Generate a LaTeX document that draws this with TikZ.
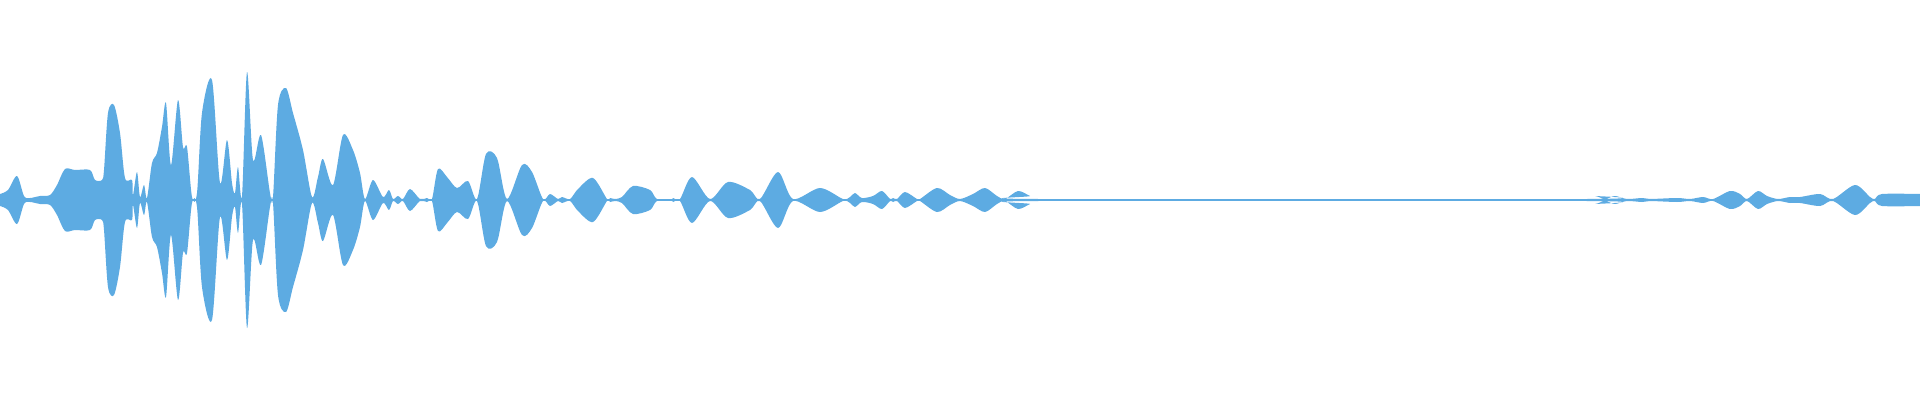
\documentclass[tikz,border=0pt]{standalone}
\definecolor{wave}{RGB}{93,171,226}
\begin{document}
\begin{tikzpicture}[x=1pt,y=1pt]
\useasboundingbox (0,0) rectangle (1920,400);
\def\env{(0,6) (8,10) (17,24) (24,4) (30,2) (40,4) (50,5) (57,15) (65,31) (75,30) (90,30) (95,20) (102,20) (104,30) (108,87) (114,95) (120,67) (125,22) (132,20) (133,5) (137,28) (140,3) (144,15) (147,2) (152,37) (157,47) (162,73) (166,97) (171,35) (178,100) (183,53) (187,53) (192,3) (197,7) (202,87) (212,120) (220,17) (227,60) (232,17) (235,7) (238,33) (242,4) (247,128) (253,40) (261,65) (270,7) (273,3) (278,95) (286,112) (293,87) (303,50) (312,3) (318,23) (323,41) (333,15) (343,65) (353,50) (360,27) (365,1) (373,20) (383,3) (389,10) (393,1) (398,4) (403,1) (410,11) (420,1) (427,2) (432,1) (438,31) (447,23) (457,12) (468,19) (477,1) (486,46) (497,42) (507,1) (522,35) (532,28) (543,1) (550,6) (558,1) (562,3) (570,1) (578,11) (593,22) (607,1) (610,2) (615,1) (622,3) (633,14) (650,10) (657,1) (672,1) (673,2) (680,1) (692,23) (710,1) (728,18) (750,10) (760,1) (778,28) (793,1) (820,12) (843,1) (850,3) (855,7) (862,2) (873,4) (882,9) (890,1) (893,2) (897,1) (905,8) (917,1) (920,1) (937,12) (950,5) (960,1) (973,6) (985,12) (997,4) (1005,1) (1018,9) (1030,4) (1038,1) (1587,1) (1595,4) (1605,1) (1615,4) (1627,1) (1642,2) (1650,1) (1677,2) (1690,1) (1703,3) (1713,1) (1730,9) (1740,6) (1747,1) (1758,9) (1767,4) (1778,1) (1790,3) (1800,3) (1820,6) (1833,1) (1855,15) (1870,3) (1875,1) (1882,6) (1920,6)}
\fill[wave] (0,200) -- plot[smooth,tension=0.5,shift={(0,200)}] coordinates \env -- (1920,200) -- cycle;
\fill[wave] (0,200) -- plot[smooth,tension=0.5,shift={(0,200)},yscale=-1] coordinates \env -- (1920,200) -- cycle;
\draw[wave,line width=2pt] (0,200) -- (1920,200);
\end{tikzpicture}
\end{document}
